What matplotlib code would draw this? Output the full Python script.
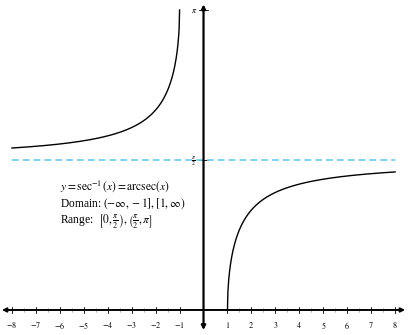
import numpy as np
import matplotlib
matplotlib.use('Agg')
import matplotlib.pyplot as plt

plt.rcParams['font.family'] = ['Liberation Serif', 'DejaVu Serif']
plt.rcParams['mathtext.fontset'] = 'stix'

# data
x_ticks = [-8, -7, -6, -5, -4, -3, -2, -1, 1, 2, 3, 4, 5, 6, 7, 8]
x_minor = [v + 0.5 for v in range(-8, 8)]
y_ticks = [np.pi / 2, np.pi]
y_labels = [r'$\frac{\pi}{2}$', r'$\pi$']
asymptote = np.pi / 2
x_left = np.linspace(-8, -1, 400)
x_right = np.linspace(1, 8, 400)
y_left = np.arccos(1 / x_left)
y_right = np.arccos(1 / x_right)

fig = plt.figure(figsize=(4.08, 3.35), dpi=100)
ax = fig.add_axes([0, 0, 1, 1])
ax.set_xlim(-8.5, 8.54)
ax.set_ylim(-0.262, 3.246)
ax.axis('off')

# axes with arrows
ax.annotate('', xy=(-8.42, 0), xytext=(8.42, 0),
            arrowprops=dict(arrowstyle='<|-|>', color='black', lw=1.4, mutation_scale=6, shrinkA=0, shrinkB=0))
ax.annotate('', xy=(0, 3.2), xytext=(0, -0.21),
            arrowprops=dict(arrowstyle='<|-|>', color='black', lw=1.6, mutation_scale=6, shrinkA=0, shrinkB=0))

# ticks
for v in x_ticks:
    ax.plot([v, v], [-0.035, 0.035], color='black', lw=0.6)
    ax.text(v, -0.1, rf'${v}$', ha='center', va='top', fontsize=5.8)
for v in x_minor:
    if abs(v) < 0.6:
        continue
    ax.plot([v, v], [-0.02, 0.02], color='#888888', lw=0.4)
for v, lab in zip(y_ticks, y_labels):
    ax.plot([-0.18, 0.18], [v, v], color='black', lw=0.6)
    ax.text(-0.4, v - 0.01, lab, ha='center', va='center', fontsize=5.8)

# asymptote
ax.plot([-8, 8], [asymptote, asymptote], color='#66ccee', lw=1.2, ls=(0, (4, 2.5)))

# curves
ax.plot(x_left, y_left, color='black', lw=1.0)
ax.plot(x_right, y_right, color='black', lw=1.0)

# annotations
ax.text(-6.0, 1.3, r'$y = \sec^{-1}(x) = \mathrm{arcsec}(x)$', fontsize=8.3, va='center')
ax.text(-6.0, 1.11, r'Domain: $(-\infty,-1],[1,\infty)$', fontsize=8.3, va='center')
ax.text(-6.0, 0.92, r'Range:  $\left[0,\frac{\pi}{2}\right),\left(\frac{\pi}{2},\pi\right]$', fontsize=8.3, va='center')

fig.savefig('out.png', dpi=100)
